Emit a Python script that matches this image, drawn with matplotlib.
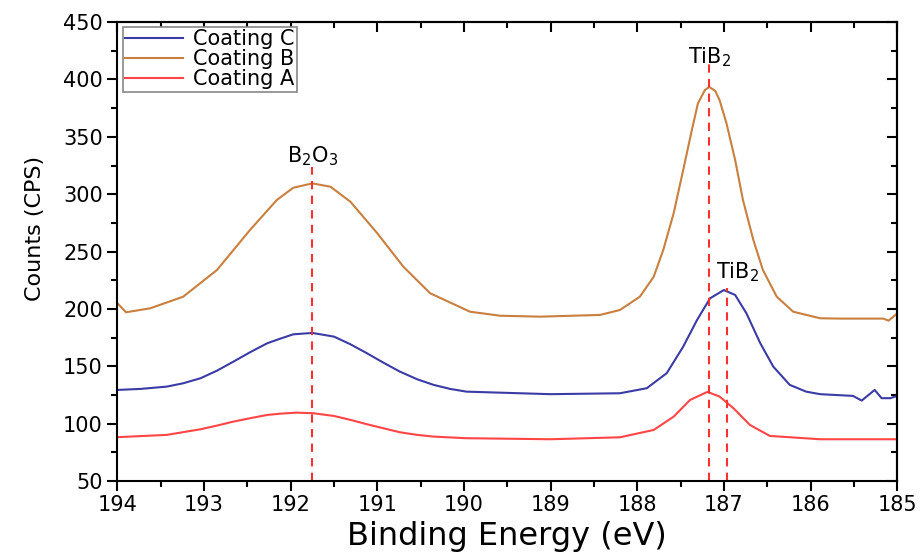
import matplotlib
matplotlib.use("Agg")
import matplotlib.pyplot as plt
from matplotlib.ticker import MultipleLocator

plt.rcParams['font.family'] = ['DejaVu Sans']

# Coating B
energyB = [194.0, 193.9, 193.62, 193.24, 192.85, 192.47, 192.16, 191.97, 191.75, 191.54,
           191.31, 191.0, 190.70, 190.39, 189.93, 189.58, 189.12, 188.43, 188.20, 187.97,
           187.81, 187.70, 187.58, 187.47, 187.37, 187.30, 187.22, 187.17, 187.10, 187.05,
           186.97, 186.87, 186.78, 186.66, 186.55, 186.39, 186.20, 185.89, 185.66, 185.16,
           185.1, 185.0]
countsB = [205, 197, 200.5, 210.6, 233.9, 268.7, 294.9, 305.6, 309.4, 306.5,
           293.4, 265.9, 236.8, 213.6, 197.5, 194, 193.2, 194.7, 199.0, 210.6,
           228.0, 251.3, 283.3, 321.0, 355.9, 379.1, 390.7, 393.5, 390.1, 382.0,
           361.7, 329.7, 294.9, 260.0, 233.9, 210.6, 197.5, 191.8, 191.5, 191.5,
           189.7, 196]

# Coating C
energyC = [194.0, 193.73, 193.43, 193.24, 193.04, 192.85, 192.66, 192.47, 192.27, 192.12,
           191.97, 191.75, 191.5, 191.31, 191.12, 190.93, 190.74, 190.54, 190.35, 190.16,
           189.97, 189.0, 188.20, 187.89, 187.66, 187.47, 187.31, 187.16, 187.0, 186.87,
           186.74, 186.58, 186.43, 186.24, 186.05, 185.89, 185.51, 185.41, 185.26, 185.18,
           185.08, 185.0]
countsC = [129.3, 130.2, 132.2, 135.1, 139.5, 146.1, 154, 162.1, 170, 174.0,
           177.8, 179, 175.8, 169.1, 161.3, 153.1, 145.3, 138.6, 133.7, 130.2,
           127.8, 125.6, 126.4, 130.8, 143.9, 167.0, 190.3, 209.2, 216.4, 212.1,
           196.1, 170.0, 149.6, 133.7, 127.8, 125.6, 124.1, 120, 129.3, 122.1,
           122.1, 124.1]

# Coating A
energyA = [194.0, 193.43, 193.04, 192.85, 192.66, 192.47, 192.27, 192.12, 191.93, 191.74,
           191.50, 191.31, 191.12, 190.93, 190.74, 190.54, 190.35, 189.97, 189.0, 188.20,
           187.81, 187.58, 187.39, 187.19, 187.05, 186.89, 186.70, 186.47, 185.89, 185.0]
countsA = [88.1, 90.1, 95, 98.2, 101.7, 104.6, 107.5, 108.6, 109.5, 109,
           106.6, 103.2, 99.4, 95.9, 92.4, 90.1, 88.6, 87.2, 86.3, 88.0,
           94.4, 106.0, 120.6, 127.6, 123.5, 113.4, 98.8, 89.2, 86.3, 86.3]

# peak markers: position, top of dashed line, label, label height
peakPos = [191.75, 187.17, 186.96]
peakTop = [324, 417, 218]
peakLabels = ["B$_2$O$_3$", "TiB$_2$", "TiB$_2$"]
labelPos = [191.75, 187.17, 186.84]
labelY = [323, 409, 222]

fig = plt.figure(figsize=(9.24, 5.54), dpi=100)
ax = fig.add_axes([0.127, 0.132, 0.844, 0.828])

ax.plot(energyC, countsC, color="#3b3ba6", lw=1.5, label="Coating C")
ax.plot(energyB, countsB, color="#c97f3e", lw=1.5, label="Coating B")
ax.plot(energyA, countsA, color="#ff4545", lw=1.5, label="Coating A")

for pos, top in zip(peakPos, peakTop):
    ax.plot([pos, pos], [50, top], color="#ff3030", lw=1.5, ls=(0, (4, 3)))
for x, y, t in zip(labelPos, labelY, peakLabels):
    ax.text(x, y, t, ha="center", va="bottom", fontsize=15)

ax.set_xlim(194, 185)
ax.set_ylim(50, 450)
ax.xaxis.set_major_locator(MultipleLocator(1))
ax.xaxis.set_minor_locator(MultipleLocator(0.5))
ax.yaxis.set_major_locator(MultipleLocator(50))
ax.yaxis.set_minor_locator(MultipleLocator(25))
ax.tick_params(which="both", direction="out", top=False, right=False, width=1.5)
ax.tick_params(which="major", length=7, labelsize=15)
ax.tick_params(which="minor", length=4)

# mirrored inward ticks on top and right
sec = ax.secondary_xaxis("top")
sec.xaxis.set_major_locator(MultipleLocator(1))
sec.xaxis.set_minor_locator(MultipleLocator(0.5))
sec.tick_params(which="both", direction="in", labeltop=False, width=1.5)
sec.tick_params(which="major", length=7)
sec.tick_params(which="minor", length=4)
secy = ax.secondary_yaxis("right")
secy.yaxis.set_major_locator(MultipleLocator(50))
secy.yaxis.set_minor_locator(MultipleLocator(25))
secy.tick_params(which="both", direction="in", labelright=False, width=1.5)
secy.tick_params(which="major", length=7)
secy.tick_params(which="minor", length=4)

for s in ax.spines.values():
    s.set_linewidth(1.5)
sec.spines["top"].set_linewidth(1.5)
secy.spines["right"].set_linewidth(1.5)

ax.set_xlabel("Binding Energy (eV)", fontsize=23, labelpad=4)
ax.set_ylabel("Counts (CPS)", fontsize=16)
ax.yaxis.set_label_coords(-0.093, 0.55)

leg = ax.legend(loc="upper left", fontsize=15, fancybox=False, framealpha=1,
                edgecolor="#888888", borderpad=0.1, labelspacing=0.0,
                handlelength=2.8, handletextpad=0.5, borderaxespad=0.25)
leg.get_frame().set_linewidth(1.2)

fig.savefig("out.png", dpi=100)
